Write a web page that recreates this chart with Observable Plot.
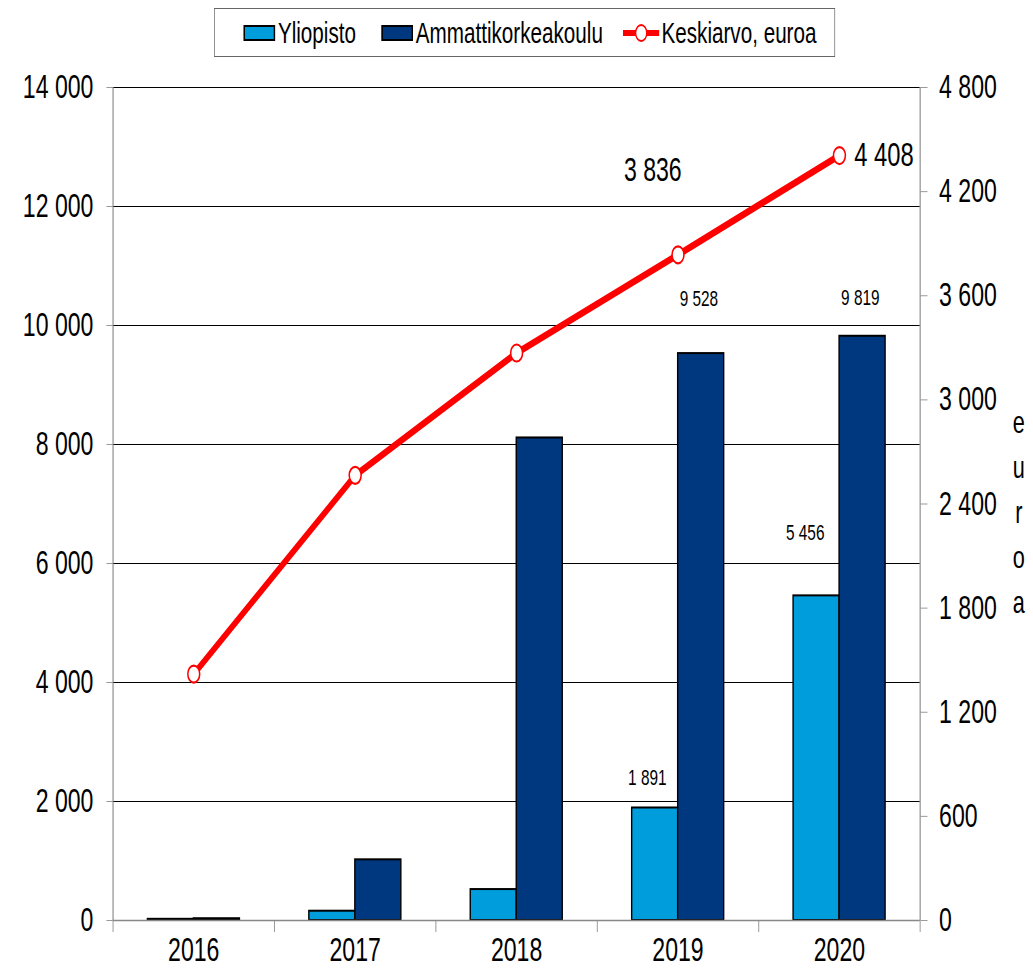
<!DOCTYPE html>
<html><head><meta charset="utf-8">
<script src="https://cdn.jsdelivr.net/npm/d3@7"></script>
<script src="https://cdn.jsdelivr.net/npm/@observablehq/plot@0.6"></script>
<style>
body{margin:0;background:#fff;overflow:hidden}
#wrap{position:absolute;left:0;top:0;width:1476px;height:976px;transform:scaleX(0.7);transform-origin:0 0;font-family:"Liberation Sans",Arial,sans-serif}
#legend{position:absolute;left:306px;top:8px;width:887px;height:49px;border:1.5px solid #666;box-sizing:border-box}
.item{position:absolute;top:0;height:100%;display:flex;align-items:center;font-size:29.5px;color:#000;white-space:nowrap}
.sw{width:45px;height:16px;border:2px solid #000;box-sizing:border-box;margin-right:4px}
#chart{position:absolute;left:0;top:60px}
</style></head><body><div id="wrap"><div id="legend"></div><div id="chart"></div></div>
<script>
// ---- data ----
const years = [2016, 2017, 2018, 2019, 2020];
const seriesNames = ["Yliopisto", "Ammattikorkeakoulu"];
const yliopisto = [20, 156, 520, 1891, 5456];
const amk = [30, 1020, 8110, 9528, 9819];
const lineName = "Keskiarvo, euroa";
const keskiarvo = [1420, 2565, 3270, 3836, 4408];
const leftTicks = [0, 2000, 4000, 6000, 8000, 10000, 12000, 14000];
const rightTicks = [0, 600, 1200, 1800, 2400, 3000, 3600, 4200, 4800];
const rightLabel = "euroa";

// ---- styles ----
const colors = ["#009ddc", "#00387f"];
const red = "#ff0000";
const ratio = 14000 / 4800;
const half = 0.285;
const fmt = d => d3.format(",")(Math.round(d)).replace(/,/g, " ");

// legend
const legend = document.getElementById("legend");
const lefts = [41, 238, 583];
seriesNames.forEach((s, i) => {
  const it = document.createElement("div");
  it.className = "item"; it.style.left = lefts[i] + "px";
  it.innerHTML = `<div class="sw" style="background:${colors[i]}"></div><span>${s}</span>`;
  legend.appendChild(it);
});
{
  const it = document.createElement("div");
  it.className = "item"; it.style.left = lefts[2] + "px";
  it.innerHTML = `<svg width="52" height="20" style="margin-right:3px"><line x1="0" y1="10" x2="52" y2="10" stroke="${red}" stroke-width="6"/><circle cx="26" cy="10" r="8" fill="#fff" stroke="${red}" stroke-width="2"/></svg><span>${lineName}</span>`;
  legend.appendChild(it);
}

const bars = years.flatMap((y, i) => [
  {year: y, series: seriesNames[0], value: yliopisto[i], x1: y - half, x2: y},
  {year: y, series: seriesNames[1], value: amk[i], x1: y, x2: y + half}
]);
const line = years.map((y, i) => ({year: y, value: keskiarvo[i], scaled: keskiarvo[i] * ratio}));
const boundaries = [2015.5, 2016.5, 2017.5, 2018.5, 2019.5, 2020.5];

// bar label offsets (px): [series, year, dx, dy]
const barLabels = [
  [0, 2019, -11, -30], [0, 2020, -16, -63],
  [1, 2019, -3, -55], [1, 2020, -3, -38]
];
const barLabelMarks = barLabels.map(([s, yr, dx, dy]) =>
  Plot.text(bars.filter(b => b.series === seriesNames[s] && b.year === yr), {
    x: d => (d.x1 + d.x2) / 2, y: "value", text: d => fmt(d.value),
    dx, dy, fontSize: 22, textAnchor: "middle"
  }));

const chart = Plot.plot({
  width: 1476, height: 916,
  marginLeft: 161, marginRight: 162, marginTop: 27, marginBottom: 56,
  style: {fontFamily: '"Liberation Sans", Arial, sans-serif', fontSize: "33px", color: "#000", background: "transparent", overflow: "visible"},
  x: {type: "linear", domain: [2015.5, 2020.5]},
  y: {domain: [0, 14000]},
  color: {domain: seriesNames, range: colors},
  marks: [
    Plot.ruleY(leftTicks.filter(d => d > 0), {stroke: "#000", strokeWidth: 1.2}),
    Plot.rect(bars, {x1: "x1", x2: "x2", y1: 0, y2: "value", fill: "series", stroke: "#000", strokeWidth: 2}),
    Plot.ruleX([2015.5, 2020.5], {stroke: "#888", strokeWidth: 1.6}),
    Plot.ruleY([0], {stroke: "#888", strokeWidth: 1.6}),
    Plot.axisY(leftTicks, {anchor: "left", tickFormat: fmt, tickSize: 9, tickPadding: 19, stroke: "#888", label: null}),
    Plot.axisY(rightTicks.map(v => v * ratio), {anchor: "right", tickFormat: d => fmt(d / ratio), tickSize: 10, tickPadding: 17, stroke: "#888", label: null}),
    Plot.axisX(boundaries, {tickFormat: () => "", tickSize: 12, stroke: "#888", label: null}),
    Plot.axisX(years, {tickFormat: d => String(d), tickSize: 0, tickPadding: 17, label: null}),
    Plot.line(line, {x: "year", y: "scaled", stroke: red, strokeWidth: 7}),
    Plot.dot(line, {x: "year", y: "scaled", r: 8.5, fill: "#fff", stroke: red, strokeWidth: 2.2}),
    Plot.text(line.filter(d => d.year === 2019), {x: "year", y: "scaled", text: d => fmt(d.value), dx: -36, dy: -84, fontSize: 33, textAnchor: "middle"}),
    Plot.text(line.filter(d => d.year === 2020), {x: "year", y: "scaled", text: d => fmt(d.value), dx: 21, dy: 0, fontSize: 34, textAnchor: "start"}),
    ...barLabelMarks,
    Plot.text([rightLabel.split("").join("\n")], {frameAnchor: "right", dx: 141, dy: 5, lineHeight: 1.45, fontSize: 31, textAnchor: "middle"})
  ]
});
document.getElementById("chart").appendChild(chart);
</script></body></html>
